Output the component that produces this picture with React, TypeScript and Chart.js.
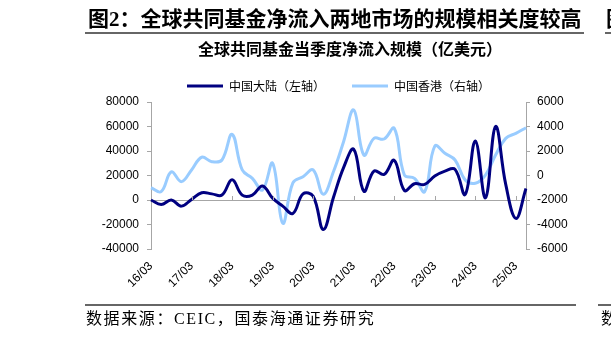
import React, { useEffect, useRef } from "react";
import { Chart, registerables } from "chart.js";

Chart.register(...registerables);

const quarters = [
  "16/03", "16/06", "16/09", "16/12",
  "17/03", "17/06", "17/09", "17/12",
  "18/03", "18/06", "18/09", "18/12",
  "19/03", "19/06", "19/09", "19/12",
  "20/03", "20/06", "20/09", "20/12",
  "21/03", "21/06", "21/09", "21/12",
  "22/03", "22/06", "22/09", "22/12",
  "23/03", "23/06", "23/09", "23/12",
  "24/03", "24/06", "24/09", "24/12",
  "25/03", "25/06",
];

// 中国大陆（左轴）
const mainland = [
  0, -3700, 0, -5000, 500, 5900, 5000, 4000, 16500, 4000, 4000, 11500, 1500,
  -5000, -11000, 5000, 3000, -24000, 2000, 26400, 41400, 7200, 23600, 20900,
  32400, 7800, 13300, 12700, 19500, 23600, 25000, 4500, 48200, 1800, 60000,
  12700, -15000, 9400,
];

// 中国香港（右轴）
const hongkong = [
  -1000, -1320, 300, -500, 450, 1490, 1130, 1265, 3360, 450, -230, -1180, 1000,
  -3900, -600, -100, 450, -1530, 310, 2760, 5350, 1670, 3030, 2980, 3850, 40,
  -230, -1320, 2400, 1810, 1265, -370, -630, 40, 1670, 3030, 3440, 3900,
];

const seriesNames = ["中国大陆（左轴）", "中国香港（右轴）"];
const titleText = "图2：全球共同基金净流入两地市场的规模相关度较高";
const subtitleText = "全球共同基金当季度净流入规模（亿美元）";
const sourceText = "数据来源：CEIC，国泰海通证券研究";

const AXIS_GRAY = "#a6a6a6";

const yearTickPlugin = {
  id: "yearTicks",
  afterDatasetsDraw(chart: any) {
    const x = chart.scales.x;
    const y = chart.scales.y;
    const ctx = chart.ctx;
    const y0 = y.getPixelForValue(0);
    ctx.save();
    ctx.strokeStyle = AXIS_GRAY;
    ctx.lineWidth = 1;
    quarters.forEach((q, i) => {
      if (i % 4 === 0 && i > 0) {
        const px = Math.round(x.getPixelForValue(i)) + 0.5;
        ctx.beginPath();
        ctx.moveTo(px, y0);
        ctx.lineTo(px, y0 - 4);
        ctx.stroke();
      }
    });
    ctx.restore();
  },
};

function ChartCanvas() {
  const ref = useRef<HTMLCanvasElement>(null);
  useEffect(() => {
    if (!ref.current) return;
    const tickFont = { family: "'Liberation Sans', Arial, sans-serif", size: 12 };
    const chart = new Chart(ref.current, {
      type: "line",
      data: {
        labels: quarters,
        datasets: [
          {
            label: seriesNames[0],
            data: mainland,
            borderColor: "#000080",
            backgroundColor: "#000080",
            borderWidth: 3,
            pointRadius: 0,
            tension: 0.4,
            yAxisID: "y",
          },
          {
            label: seriesNames[1],
            data: hongkong,
            borderColor: "#99ccff",
            backgroundColor: "#99ccff",
            borderWidth: 3,
            pointRadius: 0,
            tension: 0.4,
            yAxisID: "y1",
          },
        ],
      },
      options: {
        responsive: false,
        animation: false,
        layout: { padding: { top: 53, left: 0, right: 0, bottom: 0 } },
        plugins: {
          tooltip: { enabled: false },
          legend: {
            display: true,
            position: "top",
            fullSize: false,
            labels: {
              usePointStyle: true,
              pointStyle: "line",
              pointStyleWidth: 36,
              boxHeight: 12,
              padding: 27,
              color: "#000",
              font: { family: "'Noto Sans CJK SC', sans-serif", size: 12 },
            },
          },
        },
        scales: {
          x: {
            type: "category",
            grid: { display: false, drawTicks: false },
            border: { display: false },
            ticks: {
              autoSkip: false,
              minRotation: 45,
              maxRotation: 45,
              padding: 10,
              color: "#000",
              font: tickFont,
              callback: (_v: any, i: number) => (i % 4 === 0 ? quarters[i] : ""),
            },
            afterFit: (s: any) => {
              s.height = 338 - 249;
            },
          },
          y: {
            position: "left",
            min: -40000,
            max: 80000,
            grid: {
              color: (c: any) => (c.tick && c.tick.value === 0 ? AXIS_GRAY : "rgba(0,0,0,0)"),
              tickColor: AXIS_GRAY,
              tickLength: 4,
              lineWidth: 1,
            },
            border: { color: AXIS_GRAY, width: 1 },
            ticks: {
              stepSize: 20000,
              padding: 8,
              color: "#000",
              font: tickFont,
              callback: (v: any) => String(v),
            },
            afterFit: (s: any) => {
              s.width = 151;
            },
          },
          y1: {
            position: "right",
            min: -6000,
            max: 6000,
            grid: {
              drawOnChartArea: false,
              tickColor: AXIS_GRAY,
              tickLength: 4,
            },
            border: { color: AXIS_GRAY, width: 1 },
            ticks: {
              stepSize: 2000,
              padding: 7,
              color: "#000",
              font: tickFont,
              callback: (v: any) => String(v),
            },
            afterFit: (s: any) => {
              s.width = 611 - 526;
            },
          },
        },
      },
      plugins: [yearTickPlugin],
    });
    return () => chart.destroy();
  }, []);
  return (
    <canvas
      ref={ref}
      width={611}
      height={338}
      style={{ position: "absolute", left: 0, top: 0, width: 611, height: 338 }}
    />
  );
}

export default function App() {
  const serifCJK = "'Liberation Serif', 'Noto Sans CJK SC', serif";
  return (
    <div
      style={{
        position: "fixed",
        left: 0,
        top: 0,
        width: 611,
        height: 338,
        overflow: "hidden",
        background: "#fff",
      }}
    >
      <ChartCanvas />
      <div
        style={{
          position: "absolute",
          left: 88,
          top: 9,
          fontFamily: serifCJK,
          fontWeight: "bold",
          fontSize: 21,
          lineHeight: "21px",
          whiteSpace: "nowrap",
          color: "#000",
        }}
      >
        {titleText}
      </div>
      <div
        style={{
          position: "absolute",
          left: 606,
          top: 9,
          fontFamily: serifCJK,
          fontWeight: "bold",
          fontSize: 21,
          lineHeight: "21px",
          whiteSpace: "nowrap",
          color: "#000",
        }}
      >
        图
      </div>
      <div style={{ position: "absolute", left: 85, top: 32, width: 499, height: 2, background: "#666" }} />
      <div style={{ position: "absolute", left: 605, top: 32, width: 10, height: 2, background: "#666" }} />
      <div
        style={{
          position: "absolute",
          left: 198,
          top: 42,
          fontFamily: serifCJK,
          fontWeight: "bold",
          fontSize: 16,
          lineHeight: "16px",
          whiteSpace: "nowrap",
          color: "#000",
        }}
      >
        {subtitleText}
      </div>
      <div style={{ position: "absolute", left: 85, top: 304, width: 491, height: 2, background: "#666" }} />
      <div style={{ position: "absolute", left: 598, top: 304, width: 15, height: 2, background: "#666" }} />
      <div
        style={{
          position: "absolute",
          left: 86,
          top: 310,
          fontFamily: serifCJK,
          fontSize: 16,
          letterSpacing: "1.6px",
          lineHeight: "17px",
          whiteSpace: "nowrap",
          color: "#000",
        }}
      >
        {sourceText}
      </div>
      <div
        style={{
          position: "absolute",
          left: 601,
          top: 310,
          fontFamily: serifCJK,
          fontSize: 16,
          lineHeight: "17px",
          whiteSpace: "nowrap",
          color: "#000",
        }}
      >
        数
      </div>
    </div>
  );
}
